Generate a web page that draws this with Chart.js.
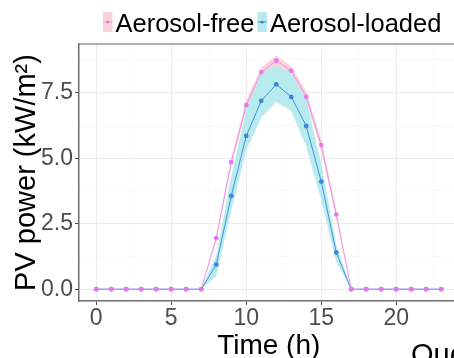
<!DOCTYPE html>
<html><head><meta charset="utf-8">
<script src="https://cdn.jsdelivr.net/npm/chart.js@4/dist/chart.umd.min.js"></script>
<style>
html,body{margin:0;padding:0;background:#fff;overflow:hidden}
#wrap{width:454px;height:358px;overflow:hidden;position:relative}
canvas{display:block}
</style></head><body>
<div id="wrap"><canvas id="c" width="470" height="358" style="width:470px;height:358px"></canvas></div>
<script>
const hours = [0,1,2,3,4,5,6,7,8,9,10,11,12,13,14,15,16,17,18,19,20,21,22,23];
const seriesNames = ['Aerosol-free','Aerosol-loaded'];
const freeMean   = [0,0,0,0,0,0,0,0,1.95,4.85,7.03,8.29,8.72,8.34,7.35,5.50,2.85,0,0,0,0,0,0,0];
const freeLow    = [0,0,0,0,0,0,0,0,1.85,4.70,6.85,8.10,8.50,8.15,7.15,5.30,2.70,0,0,0,0,0,0,0];
const freeHigh   = [0,0,0,0,0,0,0,0,2.05,5.00,7.20,8.45,8.92,8.50,7.55,5.70,3.00,0,0,0,0,0,0,0];
const loadedMean = [0,0,0,0,0,0,0,0,0.94,3.56,5.85,7.19,7.82,7.34,6.23,4.11,1.40,0,0,0,0,0,0,0];
const loadedLow  = [0,0,0,0,0,0,0,0,0.50,3.00,5.30,6.55,7.15,6.80,5.45,3.40,1.05,0,0,0,0,0,0,0];
const loadedHigh = [0,0,0,0,0,0,0,0,1.30,4.30,6.85,8.25,8.55,8.25,7.25,4.80,1.70,0,0,0,0,0,0,0];
const xTickValues = [0,2.5,5,7.5,10,12.5,15,17.5,20,22.5];
const yTickValues = [0,1.25,2.5,3.75,5,6.25,7.5,8.75];

const FONT = '"Liberation Sans", Arial, sans-serif';
const PINK_LINE = 'rgba(238,130,238,0.85)', PINK_PT = '#e57be8', PINK_FILL = '#fad3d6';
const BLUE_LINE = '#4a8fdc', BLUE_PT = '#3d86d6', CYAN_FILL = '#b8ebee';

const pts = arr => hours.map((h,i)=>({x:h, y:arr[i]}));

const legendItems = [
  {label: seriesNames[0], fill: PINK_FILL, line: PINK_LINE, pt: PINK_PT},
  {label: seriesNames[1], fill: CYAN_FILL, line: BLUE_LINE, pt: BLUE_PT}
];

const extras = {
  id: 'extras',
  afterDraw(chart) {
    const {ctx, chartArea: a} = chart;
    ctx.save();
    ctx.strokeStyle = '#959595'; ctx.lineWidth = 1.6;
    ctx.beginPath(); ctx.moveTo(a.left, a.top); ctx.lineTo(a.right, a.top); ctx.lineTo(a.right, a.bottom); ctx.stroke();
    ctx.font = '25.5px ' + FONT;
    ctx.textBaseline = 'alphabetic';
    let x = 103;
    legendItems.forEach(it => {
      ctx.fillStyle = it.fill; ctx.fillRect(x, 12, 9.5, 20);
      ctx.strokeStyle = it.line; ctx.lineWidth = 1;
      ctx.beginPath(); ctx.moveTo(x, 22); ctx.lineTo(x + 9.5, 22); ctx.stroke();
      ctx.fillStyle = it.pt; ctx.beginPath(); ctx.arc(x + 4.75, 22, 1.6, 0, Math.PI * 2); ctx.fill();
      x += 9.5 + 3;
      ctx.fillStyle = '#000'; ctx.fillText(it.label, x, 31.7);
      x += ctx.measureText(it.label).width + 3;
    });
    ctx.font = '29px ' + FONT;
    ctx.fillStyle = '#000';
    ctx.fillText('Que', 411, 364);
    ctx.restore();
  }
};

const gridColor = c => (c.tick && c.tick.value % (c.scale.axis === 'x' ? 5 : 2.5) === 0) ? '#ebebeb' : '#f6f6f6';
const tickColor = c => (c.tick && c.tick.value % (c.scale.axis === 'x' ? 5 : 2.5) === 0) ? '#4d4d4d' : 'rgba(0,0,0,0)';

new Chart(document.getElementById('c'), {
  type: 'line',
  data: {
    datasets: [
      {label:'fl', data: pts(freeLow), borderWidth:0, pointRadius:0, fill:false, order:7},
      {label:'fh', data: pts(freeHigh), borderWidth:0, pointRadius:0, fill:0, backgroundColor: PINK_FILL, order:6},
      {label:'ll', data: pts(loadedLow), borderWidth:0, pointRadius:0, fill:false, order:5},
      {label:'lh', data: pts(loadedHigh), borderWidth:0, pointRadius:0, fill:2, backgroundColor: CYAN_FILL, order:4},
      {label: seriesNames[1], data: pts(loadedMean), borderColor: BLUE_LINE, borderWidth:1, pointRadius:2.4, pointBorderWidth:0, pointBackgroundColor: BLUE_PT, fill:false, order:2},
      {label: seriesNames[0], data: pts(freeMean), borderColor: PINK_LINE, borderWidth:1, pointRadius:2.4, pointBorderWidth:0, pointBackgroundColor: PINK_PT, fill:false, order:1}
    ]
  },
  options: {
    responsive: false,
    animation: false,
    devicePixelRatio: 1,
    layout: {padding: {top:44, right:11.5, left:0, bottom:0}},
    plugins: {legend:{display:false}, tooltip:{enabled:false}},
    elements: {line:{tension:0}},
    scales: {
      x: {
        type:'linear', min:-1.15, max:24.15,
        afterBuildTicks: s => { s.ticks = xTickValues.map(v=>({value:v})); },
        afterFit: s => { s.height = 57; },
        ticks: {autoSkip:false, maxRotation:0, padding:0, color:'#4d4d4d', font:{family:FONT, size:23},
          callback: v => (v % 5 === 0 ? String(v) : '')},
        grid: {color: gridColor, lineWidth: c => (c.tick && c.tick.value % 5 === 0) ? 1 : 0.8, tickLength:4, tickColor: tickColor},
        border: {display:true, color:'#6e6e6e', width:1.5},
        title: {display:true, text:'Time (h)', color:'#000', font:{family:FONT, size:28, lineHeight:0.85}, padding:{top:0,bottom:0}}
      },
      y: {
        type:'linear', min:-0.45, max:9.36,
        afterBuildTicks: s => { s.ticks = yTickValues.map(v=>({value:v})); },
        afterFit: s => { s.width = 79; },
        ticks: {autoSkip:false, padding:2, color:'#4d4d4d', font:{family:FONT, size:23},
          callback: v => (v % 2.5 === 0 ? v.toFixed(1) : '')},
        grid: {color: gridColor, lineWidth: c => (c.tick && c.tick.value % 2.5 === 0) ? 1 : 0.8, tickLength:4, tickColor: tickColor},
        border: {display:true, color:'#6e6e6e', width:1.5},
        title: {display:true, text:'PV power (kW/m²)', color:'#000', font:{family:FONT, size:29, lineHeight:1.2}, padding:{top:9.5,bottom:0}}
      }
    }
  },
  plugins: [extras]
});
</script>
</body></html>
